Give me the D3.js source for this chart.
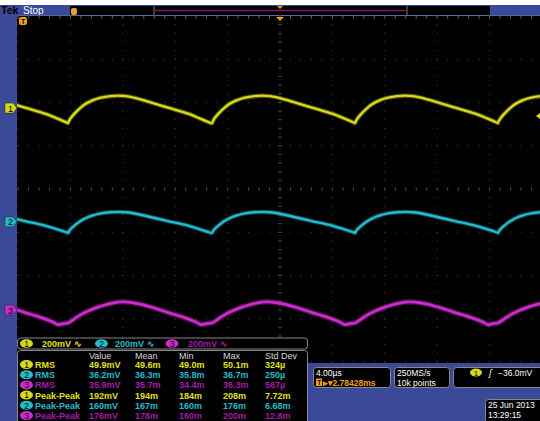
<!DOCTYPE html>
<html><head><meta charset="utf-8">
<script src="https://cdn.jsdelivr.net/npm/d3@7"></script>
<style>
html,body{margin:0;padding:0;background:#fff;}
svg{display:block;}
text{font-family:"Liberation Sans",Arial,sans-serif;font-weight:bold;}
</style></head>
<body>
<script>
// ---------- data ----------
const timeDomain = [-20, 20];          // µs, 4.00 µs/div, 10 div
const divDomain = [-4, 4];             // vertical divisions
const voltsPerDiv = [200, 200, 200];   // mV/div, ch1..ch3
const chanPos = [1.87, -0.76, -2.80];  // channel ground positions (div)
const chanColors = ["#d8d81a", "#22bccb", "#cc2ccc"];
const chanTextColors = ["#e0e020", "#22bccb", "#a01ca8"];
const cycleStarts = [-27.1, -16.18, -5.19, 5.73, 16.64]; // µs, cusp (minimum) times
// one-cycle shapes: [dt µs, mV]
const ch1Shape = [[0,-69.3],[0.15,-50.8],[0.46,-27.7],[0.92,0],[1.37,20.8],[1.91,37.0],[2.52,48.5],[3.21,55.4],[3.82,57.7],[4.43,55.4],[5.19,46.2],[6.11,30.0],[7.63,2.3],[9.16,-25.4],[10.92,-69.3]];
const ch2Shape = [[0,-50.8],[0.15,-36.7],[0.46,-18.9],[0.92,2.3],[1.37,18.0],[1.91,30.5],[2.52,39.3],[3.21,44.3],[3.82,46.2],[4.43,44.3],[5.19,37.4],[6.11,24.9],[7.63,3.7],[9.16,-17.1],[10.92,-50.8]];
const ch3Shape = [[0,-60.0],[0.46,-41.6],[0.92,-23.1],[1.53,-4.6],[2.29,13.9],[3.05,27.7],[3.82,37.0],[4.58,37.0],[5.50,27.7],[6.49,11.5],[7.63,-11.5],[8.78,-32.3],[9.77,-55.4],[10.15,-67.0],[10.53,-62.4],[10.92,-60.0]];
const shapes = [ch1Shape, ch2Shape, ch3Shape];

const measHeader = ["Value", "Mean", "Min", "Max", "Std Dev"];
const measLabels = ["RMS", "RMS", "RMS", "Peak-Peak", "Peak-Peak", "Peak-Peak"];
const measChan = [1, 2, 3, 1, 2, 3];
const measValues = [
  ["49.9mV", "49.6m", "49.0m", "50.1m", "324µ"],
  ["36.2mV", "36.3m", "35.8m", "36.7m", "250µ"],
  ["35.9mV", "35.7m", "34.4m", "36.3m", "567µ"],
  ["192mV", "194m", "184m", "208m", "7.72m"],
  ["160mV", "167m", "160m", "176m", "6.68m"],
  ["176mV", "178m", "160m", "200m", "12.8m"]
];
const chanScaleLabels = ["200mV ∿", "200mV ∿", "200mV ∿"];
const timebaseLabel = "4.00µs";
const delayLabel = "▸▾2.78428ms";
const sampleLabels = ["250MS/s", "10k points"];
const triggerLabel = "−36.0mV";
const trigLevel = -36.0;
const dateLabels = ["25 Jun 2013", "13:29:15"];

// ---------- drawing ----------
const W = 540, H = 421;
const BLUE = "#3b4a98";
const GRID = "#484848";
const svg = d3.select("body").append("svg").attr("width", W).attr("height", H);

const gx0 = 18, gx1 = 542, gy0 = 16, gy1 = 362;
const x = d3.scaleLinear().domain(timeDomain).range([gx0, gx1]);
const y = d3.scaleLinear().domain(divDomain).range([gy1, gy0]);

// backgrounds
svg.append("rect").attr("x",0).attr("y",5).attr("width",W).attr("height",H-5).attr("fill",BLUE);
svg.append("rect").attr("x",17).attr("y",15).attr("width",W-17).attr("height",gy1-15+1).attr("fill","#000");

// top bar
svg.append("rect").attr("x",70).attr("y",6).attr("width",420).attr("height",9).attr("fill","#000");
svg.append("text").attr("x",1).attr("y",14).attr("font-size",10.5).attr("fill","#000").text("Tek");
svg.append("text").attr("x",23).attr("y",14).attr("font-size",10).attr("fill","#fff").style("font-weight","normal").text("Stop");
svg.append("line").attr("x1",154).attr("x2",154).attr("y1",6).attr("y2",15).attr("stroke","#777").attr("stroke-width",1);
svg.append("line").attr("x1",407).attr("x2",407).attr("y1",6).attr("y2",15).attr("stroke","#777").attr("stroke-width",1);
svg.append("line").attr("x1",154).attr("x2",407).attr("y1",10.5).attr("y2",10.5).attr("stroke","#7a1c6a").attr("stroke-width",1.5);
svg.append("path").attr("d","M277,6 L283,6 L280,9 Z").attr("fill","#f0a020");
svg.append("rect").attr("x",71).attr("y",8).attr("width",6).attr("height",7).attr("rx",2).attr("fill","#f0a020");
svg.append("line").attr("x1",17).attr("x2",W).attr("y1",15.5).attr("y2",15.5).attr("stroke","#5a6a9a").attr("stroke-width",1);

// graticule
const grid = svg.append("g");
const minorX = d3.range(0, 51).map(i => timeDomain[0] + i * 0.8);
const minorY = d3.range(0, 41).map(i => divDomain[0] + i * 0.2);
const majorX = d3.range(-20, 21, 4);
const majorY = d3.range(-4, 5, 1);
majorX.forEach(t => {
  minorY.forEach(v => {
    grid.append("rect").attr("x", x(t)-0.5).attr("y", y(v)-0.5).attr("width",1).attr("height",1).attr("fill",GRID);
  });
});
majorY.forEach(v => {
  minorX.forEach(t => {
    grid.append("rect").attr("x", x(t)-0.5).attr("y", y(v)-0.5).attr("width",1).attr("height",1).attr("fill",GRID);
  });
});
minorY.forEach(v => {
  grid.append("line").attr("x1", x(0)-2).attr("x2", x(0)+2).attr("y1", y(v)).attr("y2", y(v)).attr("stroke",GRID).attr("stroke-width",0.8);
});
minorX.forEach(t => {
  grid.append("line").attr("x1", x(t)).attr("x2", x(t)).attr("y1", y(0)-2).attr("y2", y(0)+2).attr("stroke",GRID).attr("stroke-width",0.8);
  grid.append("line").attr("x1", x(t)).attr("x2", x(t)).attr("y1", gy0).attr("y2", gy0+3).attr("stroke","#5a6a9a").attr("stroke-width",0.8);
});
grid.append("line").attr("x1", x(0)).attr("x2", x(0)).attr("y1", gy0).attr("y2", gy1).attr("stroke","#333").attr("stroke-width",0.8).attr("stroke-dasharray","1,2");

svg.append("clipPath").attr("id","gclip").append("rect").attr("x",17).attr("y",gy0).attr("width",W-17).attr("height",gy1-gy0);

// traces
const line = d3.line().x(d => x(d[0])).y(d => d[1]).curve(d3.curveCatmullRom.alpha(0.5));
const traces = svg.append("g").attr("clip-path","url(#gclip)");
shapes.forEach((shape, ci) => {
  const pts = [];
  cycleStarts.forEach(t0 => {
    shape.forEach(p => pts.push([t0 + p[0], y(chanPos[ci] + p[1] / voltsPerDiv[ci])]));
  });
  const wide = ci === 2 ? 5.5 : 4.5;
  traces.append("path").attr("d", line(pts)).attr("fill","none").attr("stroke", chanColors[ci]).attr("stroke-width", wide).attr("stroke-opacity",0.35).attr("stroke-linejoin","round");
  traces.append("path").attr("d", line(pts)).attr("fill","none").attr("stroke", chanColors[ci]).attr("stroke-width", ci === 2 ? 2.8 : 2.4).attr("stroke-linejoin","round");
});

// trigger markers
svg.append("path").attr("d", `M${x(0)-4},${gy0+1} L${x(0)+4},${gy0+1} L${x(0)},${gy0+5} Z`).attr("fill","#f0a020");
svg.append("rect").attr("x",19).attr("y",17).attr("width",8).attr("height",8).attr("rx",2).attr("fill","#f0a020");
svg.append("text").attr("x",21).attr("y",24).attr("font-size",7).attr("fill","#000").text("T");
const ty = y(chanPos[0] + trigLevel / voltsPerDiv[0]);
svg.append("path").attr("d", `M540,${ty-3} L536,${ty} L540,${ty+3} Z`).attr("fill", chanColors[0]);

// channel ground markers
chanPos.forEach((p, i) => {
  const cy = y(p);
  svg.append("path").attr("d", `M5,${cy-5} L13,${cy-5} L17,${cy} L13,${cy+5} L5,${cy+5} Z`).attr("fill", chanColors[i]).attr("stroke","#222").attr("stroke-width",0.5);
  svg.append("text").attr("x",8).attr("y",cy+3.5).attr("font-size",9).attr("fill","#000").style("font-weight","normal").text(i+1);
});

// channel bar
svg.append("rect").attr("x",17.5).attr("y",338).attr("width",290).attr("height",11).attr("rx",3).attr("fill","#000").attr("stroke","#888").attr("stroke-width",1);
const badgeX = [26.5, 101.5, 172];
const scaleX = [42, 115, 188];
chanScaleLabels.forEach((s, i) => {
  svg.append("ellipse").attr("cx", badgeX[i]).attr("cy", 343.5).attr("rx",6.5).attr("ry",4.3).attr("fill", chanColors[i]);
  svg.append("text").attr("x", badgeX[i]).attr("y", 346.7).attr("text-anchor","middle").attr("font-size",8.5).attr("fill","#000").style("font-weight","normal").text(i+1);
  svg.append("text").attr("x", scaleX[i]).attr("y", 347).attr("font-size",9).attr("fill", chanTextColors[i]).text(s);
});

// measurement table
svg.append("rect").attr("x",17.5).attr("y",350.5).attr("width",290).attr("height",74).attr("rx",3).attr("fill","#000").attr("stroke","#888").attr("stroke-width",1);
const colX = [89, 135, 179, 223, 265];
measHeader.forEach((h, j) => {
  svg.append("text").attr("x", colX[j]).attr("y", 358.5).attr("font-size",9).attr("fill","#d8d8d8").style("font-weight","normal").text(h);
});
measLabels.forEach((lab, r) => {
  const by = 364.5 + r * 10.2;
  const ci = measChan[r] - 1;
  svg.append("ellipse").attr("cx",26.5).attr("cy",by).attr("rx",6.5).attr("ry",4.5).attr("fill", chanColors[ci]);
  svg.append("text").attr("x",26.5).attr("y",by+3.2).attr("text-anchor","middle").attr("font-size",8.5).attr("fill","#000").style("font-weight","normal").text(measChan[r]);
  svg.append("text").attr("x",35).attr("y",by+3.5).attr("font-size",9).attr("fill", chanTextColors[ci]).text(lab);
  measValues[r].forEach((v, j) => {
    svg.append("text").attr("x", colX[j]).attr("y", by+3.5).attr("font-size",9).attr("fill", chanTextColors[ci]).text(v);
  });
});

// bottom-right readouts
function box(x0, y0, w, h) {
  svg.append("rect").attr("x",x0+0.5).attr("y",y0+0.5).attr("width",w).attr("height",h).attr("rx",3).attr("fill","#000").attr("stroke","#888").attr("stroke-width",1);
}
box(313, 367, 77, 20);
svg.append("text").attr("x",316).attr("y",375.5).attr("font-size",8.5).attr("fill","#fff").style("font-weight","normal").text(timebaseLabel);
svg.append("rect").attr("x",316).attr("y",378.5).attr("width",6).attr("height",7.5).attr("fill","#f0a020");
svg.append("text").attr("x",317.2).attr("y",385).attr("font-size",6.5).attr("fill","#000").text("T");
svg.append("text").attr("x",322.5).attr("y",385.5).attr("font-size",8.5).attr("fill","#f0a020").text(delayLabel);
box(394, 367, 55, 20);
svg.append("text").attr("x",397).attr("y",375.5).attr("font-size",8.5).attr("fill","#fff").style("font-weight","normal").text(sampleLabels[0]);
svg.append("text").attr("x",397).attr("y",385.5).attr("font-size",8.5).attr("fill","#fff").style("font-weight","normal").text(sampleLabels[1]);
box(453, 367, 100, 20);
svg.append("ellipse").attr("cx",476).attr("cy",372.5).attr("rx",6).attr("ry",4).attr("fill", chanColors[0]);
svg.append("text").attr("x",476).attr("y",375.5).attr("text-anchor","middle").attr("font-size",8).attr("fill","#000").style("font-weight","normal").text("1");
svg.append("text").attr("x",489).attr("y",376).attr("font-size",9).attr("fill","#fff").style("font-weight","normal").style("font-style","italic").text("ʃ");
svg.append("text").attr("x",498).attr("y",375.5).attr("font-size",8.5).attr("fill","#fff").style("font-weight","normal").text(triggerLabel);
box(485, 399, 70, 23);
svg.append("text").attr("x",488).attr("y",408).attr("font-size",8.5).attr("fill","#fff").style("font-weight","normal").text(dateLabels[0]);
svg.append("text").attr("x",488).attr("y",418).attr("font-size",8.5).attr("fill","#fff").style("font-weight","normal").text(dateLabels[1]);
</script>
</body></html>
